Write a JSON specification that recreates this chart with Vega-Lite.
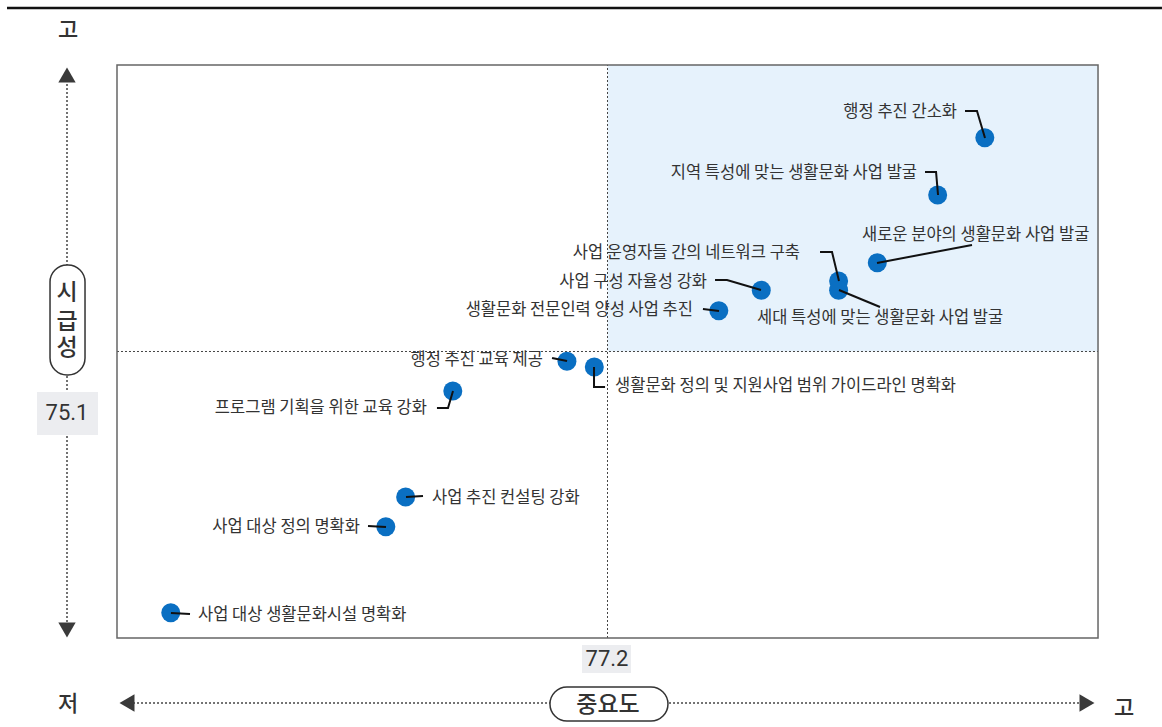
{
  "$schema": "https://vega.github.io/schema/vega-lite/v6.json",
  "width": 1162,
  "height": 727,
  "autosize": {"type": "none"},
  "padding": 0,
  "background": "white",
  "config": {"view": {"stroke": null}},
  "encoding": {
    "x": {"field": "x", "type": "quantitative", "scale": {"domain": [70.7597, 83.0783], "nice": false, "zero": false}, "axis": null},
    "y": {"field": "y", "type": "quantitative", "scale": {"domain": [68.5467, 81.2344], "nice": false, "zero": false}, "axis": null}
  },
  "layer": [
    {
      "data": {"values": [{"x": 77.2, "y": 75.1, "x2": 82.4, "y2": 80.1}]},
      "mark": {"type": "rect", "fill": "#E6F2FC"},
      "encoding": {"x2": {"field": "x2"}, "y2": {"field": "y2"}}
    },
    {
      "data": {"values": [
        {"x": 77.2, "y": 70.1, "x2": 77.2, "y2": 80.1},
        {"x": 72.0, "y": 75.1, "x2": 82.4, "y2": 75.1}
      ]},
      "mark": {"type": "rule", "color": "#444", "strokeWidth": 1, "strokeDash": [2, 2]},
      "encoding": {"x2": {"field": "x2"}, "y2": {"field": "y2"}}
    },
    {
      "data": {"values": [{"x": 72.0, "y": 70.1, "x2": 82.4, "y2": 80.1}]},
      "mark": {"type": "rect", "fill": null, "fillOpacity": 0, "stroke": "#666", "strokeWidth": 1.5},
      "encoding": {"x2": {"field": "x2"}, "y2": {"field": "y2"}}
    },
    {
      "data": {"values": [
        {"name": "행정 추진 간소화", "x": 81.20, "y": 78.83},
        {"name": "지역 특성에 맞는 생활문화 사업 발굴", "x": 80.70, "y": 77.83},
        {"name": "새로운 분야의 생활문화 사업 발굴", "x": 80.06, "y": 76.65},
        {"name": "사업 운영자들 간의 네트워크 구축", "x": 79.65, "y": 76.33},
        {"name": "세대 특성에 맞는 생활문화 사업 발굴", "x": 79.65, "y": 76.17},
        {"name": "사업 구성 자율성 강화", "x": 78.83, "y": 76.17},
        {"name": "생활문화 전문인력 양성 사업 추진", "x": 78.38, "y": 75.81},
        {"name": "행정 추진 교육 제공", "x": 76.77, "y": 74.93},
        {"name": "생활문화 정의 및 지원사업 범위 가이드라인 명확화", "x": 77.06, "y": 74.83},
        {"name": "프로그램 기획을 위한 교육 강화", "x": 75.56, "y": 74.41},
        {"name": "사업 추진 컨설팅 강화", "x": 75.06, "y": 72.56},
        {"name": "사업 대상 정의 명확화", "x": 74.85, "y": 72.04},
        {"name": "사업 대상 생활문화시설 명확화", "x": 72.57, "y": 70.54}
      ]},
      "mark": {"type": "point", "shape": "circle", "filled": true, "size": 361, "color": "#0A6FC2", "opacity": 1}
    },
    {
      "data": {"values": [
        {"id": 1, "o": 1, "x": 80.990, "y": 79.297}, {"id": 1, "o": 2, "x": 81.117, "y": 79.297}, {"id": 1, "o": 3, "x": 81.202, "y": 78.826},
        {"id": 2, "o": 1, "x": 80.566, "y": 78.233}, {"id": 2, "o": 2, "x": 80.683, "y": 78.233}, {"id": 2, "o": 3, "x": 80.704, "y": 77.831},
        {"id": 3, "o": 1, "x": 81.064, "y": 76.959}, {"id": 3, "o": 2, "x": 80.057, "y": 76.645},
        {"id": 4, "o": 1, "x": 79.453, "y": 76.837}, {"id": 4, "o": 2, "x": 79.580, "y": 76.837}, {"id": 4, "o": 3, "x": 79.654, "y": 76.330},
        {"id": 5, "o": 1, "x": 79.654, "y": 76.173}, {"id": 5, "o": 2, "x": 80.089, "y": 75.877},
        {"id": 6, "o": 1, "x": 78.340, "y": 76.348}, {"id": 6, "o": 2, "x": 78.467, "y": 76.348}, {"id": 6, "o": 3, "x": 78.827, "y": 76.173},
        {"id": 7, "o": 1, "x": 78.212, "y": 75.842}, {"id": 7, "o": 2, "x": 78.382, "y": 75.807},
        {"id": 8, "o": 1, "x": 76.612, "y": 74.987}, {"id": 8, "o": 2, "x": 76.771, "y": 74.934},
        {"id": 9, "o": 1, "x": 77.057, "y": 74.830}, {"id": 9, "o": 2, "x": 77.057, "y": 74.481}, {"id": 9, "o": 3, "x": 77.174, "y": 74.481},
        {"id": 10, "o": 1, "x": 75.392, "y": 74.114}, {"id": 10, "o": 2, "x": 75.509, "y": 74.114}, {"id": 10, "o": 3, "x": 75.562, "y": 74.411},
        {"id": 11, "o": 1, "x": 75.064, "y": 72.561}, {"id": 11, "o": 2, "x": 75.244, "y": 72.578},
        {"id": 12, "o": 1, "x": 74.661, "y": 72.055}, {"id": 12, "o": 2, "x": 74.852, "y": 72.037},
        {"id": 13, "o": 1, "x": 72.572, "y": 70.536}, {"id": 13, "o": 2, "x": 72.774, "y": 70.519}
      ]},
      "mark": {"type": "line", "color": "#111", "strokeWidth": 2, "interpolate": "linear"},
      "encoding": {"detail": {"field": "id", "type": "nominal"}, "order": {"field": "o", "type": "quantitative"}}
    },
    {
      "data": {"values": [
        {"name": "행정 추진 간소화", "x": 80.905, "y": 79.280},
        {"name": "지역 특성에 맞는 생활문화 사업 발굴", "x": 80.481, "y": 78.215},
        {"name": "사업 운영자들 간의 네트워크 구축", "x": 79.241, "y": 76.819},
        {"name": "사업 구성 자율성 강화", "x": 78.255, "y": 76.313},
        {"name": "생활문화 전문인력 양성 사업 추진", "x": 78.106, "y": 75.824},
        {"name": "행정 추진 교육 제공", "x": 76.516, "y": 74.952},
        {"name": "프로그램 기획을 위한 교육 강화", "x": 75.286, "y": 74.114},
        {"name": "사업 대상 정의 명확화", "x": 74.576, "y": 72.037}
      ]},
      "mark": {"type": "text", "align": "right", "baseline": "middle", "font": "Noto Sans CJK KR", "fontSize": 16.5, "color": "#333"},
      "encoding": {"text": {"field": "name"}}
    },
    {
      "data": {"values": [
        {"name": "새로운 분야의 생활문화 사업 발굴", "x": 79.898, "y": 77.133},
        {"name": "세대 특성에 맞는 생활문화 사업 발굴", "x": 78.785, "y": 75.685},
        {"name": "생활문화 정의 및 지원사업 범위 가이드라인 명확화", "x": 77.280, "y": 74.498},
        {"name": "사업 추진 컨설팅 강화", "x": 75.339, "y": 72.543},
        {"name": "사업 대상 생활문화시설 명확화", "x": 72.859, "y": 70.501}
      ]},
      "mark": {"type": "text", "align": "left", "baseline": "middle", "font": "Noto Sans CJK KR", "fontSize": 16.5, "color": "#333"},
      "encoding": {"text": {"field": "name"}}
    },
    {
      "data": {"values": [{"x": 70.834, "y": 81.095, "x2": 83.078, "y2": 81.095}]},
      "mark": {"type": "rule", "color": "#111", "strokeWidth": 2.5},
      "encoding": {"x2": {"field": "x2"}, "y2": {"field": "y2"}}
    },
    {
      "data": {"values": [
        {"x": 71.470, "y": 79.838, "x2": 71.470, "y2": 70.327},
        {"x": 72.170, "y": 68.966, "x2": 82.230, "y2": 68.966}
      ]},
      "mark": {"type": "rule", "color": "#444", "strokeWidth": 1.5, "strokeDash": [2, 2]},
      "encoding": {"x2": {"field": "x2"}, "y2": {"field": "y2"}}
    },
    {
      "data": {"values": [
        {"s": "triangle-up", "x": 71.470, "y": 79.925},
        {"s": "triangle-down", "x": 71.470, "y": 70.240},
        {"s": "triangle-left", "x": 72.106, "y": 68.966},
        {"s": "triangle-right", "x": 82.283, "y": 68.966}
      ]},
      "mark": {"type": "point", "filled": true, "size": 300, "color": "#3a3a3a", "opacity": 1},
      "encoding": {"shape": {"field": "s", "type": "nominal", "scale": null}}
    },
    {
      "data": {"values": [
        {"x": 71.290, "y": 76.610, "x2": 71.661, "y2": 74.690},
        {"x": 76.590, "y": 69.245, "x2": 77.841, "y2": 68.651}
      ]},
      "mark": {"type": "rect", "fill": "white", "stroke": "#333", "strokeWidth": 1.5, "cornerRadius": 17},
      "encoding": {"x2": {"field": "x2"}, "y2": {"field": "y2"}}
    },
    {
      "data": {"values": [
        {"x": 71.152, "y": 74.393, "x2": 71.799, "y2": 73.643},
        {"x": 76.930, "y": 69.978, "x2": 77.449, "y2": 69.489}
      ]},
      "mark": {"type": "rect", "fill": "#ECEDF0"},
      "encoding": {"x2": {"field": "x2"}, "y2": {"field": "y2"}}
    },
    {
      "data": {"values": [
        {"t": "고", "x": 71.481, "y": 80.711},
        {"t": "저", "x": 71.481, "y": 68.948},
        {"t": "고", "x": 82.676, "y": 68.878}
      ]},
      "mark": {"type": "text", "align": "center", "baseline": "middle", "font": "Noto Sans CJK KR", "fontSize": 22, "fontWeight": 500, "color": "#333"},
      "encoding": {"text": {"field": "t"}}
    },
    {
      "data": {"values": [
        {"t": "시", "x": 71.470, "y": 76.121},
        {"t": "급", "x": 71.470, "y": 75.615},
        {"t": "성", "x": 71.470, "y": 75.161},
        {"t": "중요도", "x": 77.205, "y": 68.931}
      ]},
      "mark": {"type": "text", "align": "center", "baseline": "middle", "font": "Noto Sans CJK KR", "fontSize": 23, "fontWeight": 500, "color": "#333"},
      "encoding": {"text": {"field": "t"}}
    },
    {
      "data": {"values": [
        {"t": "75.1", "x": 71.470, "y": 74.027},
        {"t": "77.2", "x": 77.195, "y": 69.734}
      ]},
      "mark": {"type": "text", "align": "center", "baseline": "middle", "font": "Roboto", "fontSize": 22, "color": "#333"},
      "encoding": {"text": {"field": "t"}}
    }
  ]
}
